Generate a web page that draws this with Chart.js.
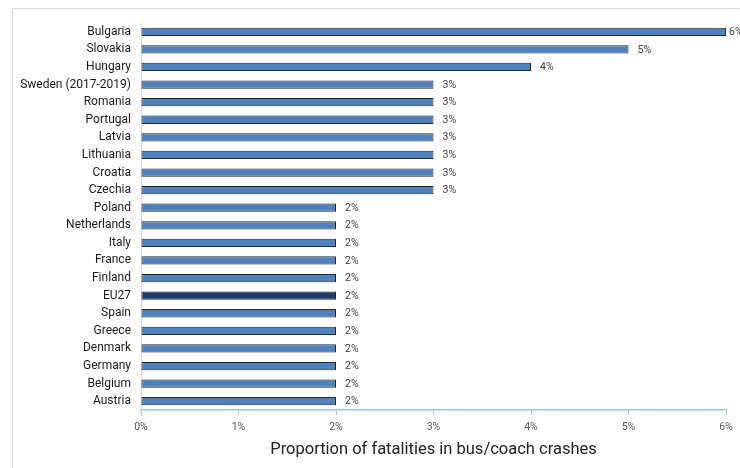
<!DOCTYPE html>
<html>
<head>
<meta charset="utf-8">
<script src="https://cdn.jsdelivr.net/npm/chart.js@4.4.1/dist/chart.umd.min.js"></script>
<style>
  html, body { margin: 0; padding: 0; background: #ffffff; }
  #wrap { width: 740px; height: 468px; position: relative; }
</style>
</head>
<body>
<div id="wrap"><canvas id="c" width="740" height="468"></canvas></div>
<script>
const countries = [
  "Bulgaria", "Slovakia", "Hungary", "Sweden (2017-2019)", "Romania", "Portugal",
  "Latvia", "Lithuania", "Croatia", "Czechia", "Poland", "Netherlands", "Italy",
  "France", "Finland", "EU27", "Spain", "Greece", "Denmark", "Germany", "Belgium", "Austria"
];
const shares = [6, 5, 4, 3, 3, 3, 3, 3, 3, 3, 2, 2, 2, 2, 2, 2, 2, 2, 2, 2, 2, 2];
const xTicks = [0, 1, 2, 3, 4, 5, 6];
const axisTitle = "Proportion of fatalities in bus/coach crashes";

const FONT = "Roboto, 'DejaVu Sans', sans-serif";
const barFill = countries.map(c => c === "EU27" ? "#1f3c6e" : "#4f81bd");

// outer frame around the chart
const framePlugin = {
  id: "frame",
  beforeDraw(chart) {
    const ctx = chart.ctx;
    ctx.save();
    ctx.strokeStyle = "#d9d9d9";
    ctx.lineWidth = 1;
    ctx.strokeRect(12.5, 8.5, 900, 900);
    ctx.restore();
  }
};

// value labels at the end of each bar, nudged left near the right edge
const valueLabels = {
  id: "valueLabels",
  afterDatasetsDraw(chart) {
    const ctx = chart.ctx;
    const meta = chart.getDatasetMeta(0);
    const maxX = chart.chartArea.right + 3;
    ctx.save();
    ctx.font = "10.5px " + FONT;
    ctx.fillStyle = "#404040";
    ctx.textAlign = "left";
    ctx.textBaseline = "middle";
    meta.data.forEach((el, i) => {
      ctx.fillText(shares[i] + "%", Math.min(el.x + 9, maxX), el.y + 0.5);
    });
    ctx.restore();
  }
};

new Chart(document.getElementById("c"), {
  type: "bar",
  data: {
    labels: countries,
    datasets: [{
      data: shares,
      backgroundColor: barFill,
      borderColor: "#262626",
      borderWidth: 1,
      borderSkipped: false,
      barPercentage: 0.47,
      categoryPercentage: 1
    }]
  },
  options: {
    indexAxis: "y",
    responsive: false,
    animation: false,
    devicePixelRatio: 1,
    layout: { padding: { left: 0, right: 14, top: 23, bottom: 8 } },
    plugins: { legend: { display: false }, tooltip: { enabled: false } },
    scales: {
      x: {
        min: 0, max: 6,
        afterBuildTicks(scale) { scale.ticks = xTicks.map(v => ({ value: v })); },
        afterFit(scale) { scale.height = 50; },
        grid: { drawOnChartArea: false, drawTicks: true, tickLength: 5, tickColor: "#9dc3e6" },
        border: { display: true, color: "#9dc3e6", width: 1.5 },
        ticks: {
          padding: 6,
          color: "#595959",
          font: { family: FONT, size: 10.5 },
          callback: v => v + "%"
        },
        title: {
          display: true,
          text: axisTitle,
          color: "#222222",
          font: { family: FONT, size: 16.5 },
          padding: { top: 4, bottom: 0 }
        }
      },
      y: {
        afterFit(scale) { scale.width = 141; },
        grid: { display: false, drawTicks: false },
        border: { display: true, color: "#d9d9d9", width: 1 },
        ticks: {
          padding: 10,
          color: "#1a1a1a",
          font: { family: FONT, size: 12 }
        }
      }
    }
  },
  plugins: [framePlugin, valueLabels]
});
</script>
</body>
</html>
